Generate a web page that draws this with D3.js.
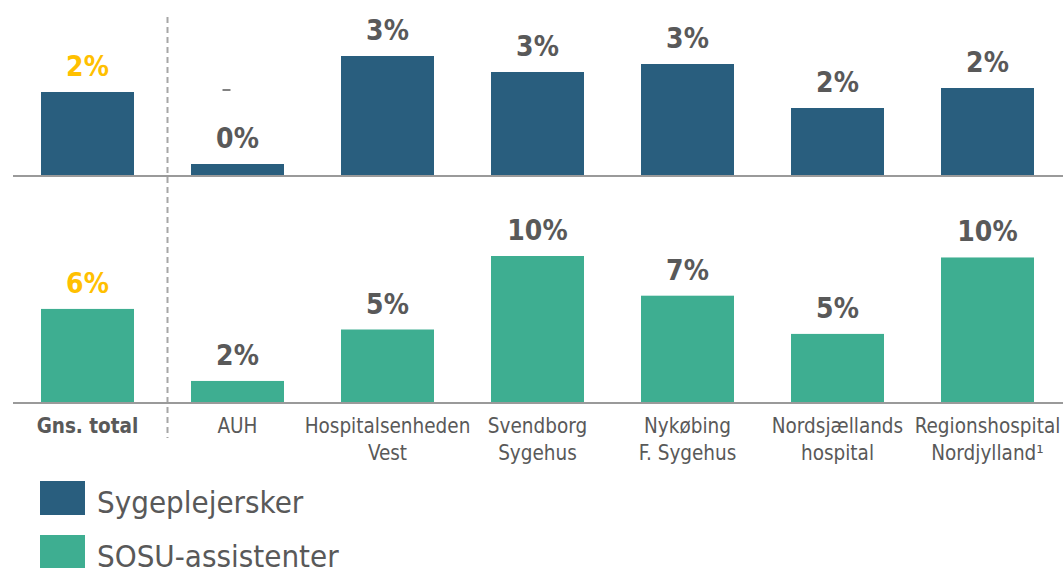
<!DOCTYPE html>
<html>
<head>
<meta charset="utf-8">
<script src="https://cdn.jsdelivr.net/npm/d3@7"></script>
<style>
  body { margin: 0; background: #fff; }
  svg { display: block; font-family: "DejaVu Sans Condensed", "DejaVu Sans", sans-serif; }
</style>
</head>
<body>
<svg id="svg" width="1063" height="568"></svg>
<script>
const categories = ['Gns. total', 'AUH', 'Hospitalsenheden Vest', 'Svendborg Sygehus',
    'Nykøbing F. Sygehus', 'Nordsjællands hospital', 'Regionshospital Nordjylland¹'];
// two-line tick labels
const tickLabels = [
    ['Gns. total'], ['AUH'], ['Hospitalsenheden', 'Vest'], ['Svendborg', 'Sygehus'],
    ['Nykøbing', 'F. Sygehus'], ['Nordsjællands', 'hospital'], ['Regionshospital', 'Nordjylland¹']
];
const sygeplejersker = [2.1, 0.3, 3.0, 2.6, 2.8, 1.7, 2.2];
const sosu = [6.4, 1.5, 5.0, 10.0, 7.3, 4.7, 9.9];
const seriesNames = ['Sygeplejersker', 'SOSU-assistenter'];

const colors = ['#295e7e', '#3eae91'];
const textGrey = '#595959';
const avgColor = '#ffc000';

const svg = d3.select('#svg');

const xScale = d3.scaleBand()
    .domain(categories)
    .range([12.5, 1062.5])
    .paddingInner(0.38)
    .paddingOuter(0.19);

// one scale per panel
const yTop = d3.scaleLinear().domain([0, 4]).range([176, 16]);
const yBottom = d3.scaleLinear().domain([0, 10]).range([403, 256]);

const panels = [
    {values: sygeplejersker, y: yTop, color: colors[0]},
    {values: sosu, y: yBottom, color: colors[1]}
];

// dashed divider between average and hospitals
const divX = (xScale(categories[0]) + xScale.bandwidth() + xScale(categories[1])) / 2 + 5;
svg.append('line')
    .attr('x1', divX).attr('x2', divX)
    .attr('y1', 17).attr('y2', 438)
    .attr('stroke', '#a6a6a6')
    .attr('stroke-width', 2)
    .attr('stroke-dasharray', '6,4');

panels.forEach(p => {
    const data = categories.map((c, i) => ({cat: c, v: p.values[i], i: i}));
    const g = svg.append('g');

    g.selectAll('rect').data(data)
        .enter()
        .append('rect')
        .attr('x', d => xScale(d.cat))
        .attr('y', d => p.y(d.v))
        .attr('width', xScale.bandwidth())
        .attr('height', d => p.y(0) - p.y(d.v))
        .attr('fill', p.color);

    g.selectAll('.val').data(data)
        .enter()
        .append('text')
        .attr('class', 'val')
        .attr('x', d => xScale(d.cat) + xScale.bandwidth() / 2)
        .attr('y', d => p.y(d.v) - 16)
        .attr('text-anchor', 'middle')
        .attr('font-size', 28)
        .attr('font-weight', 'bold')
        .attr('fill', d => d.i === 0 ? avgColor : textGrey)
        .text(d => Math.round(d.v) + '%');

    // baseline
    g.append('line')
        .attr('x1', 13).attr('x2', 1063)
        .attr('y1', p.y(0)).attr('y2', p.y(0))
        .attr('stroke', '#9a9a9a')
        .attr('stroke-width', 2);
});

// small dash above the AUH label
const auhX = xScale(categories[1]) + xScale.bandwidth() / 2 - 11;
svg.append('line')
    .attr('x1', auhX - 4).attr('x2', auhX + 4)
    .attr('y1', 90).attr('y2', 90)
    .attr('stroke', textGrey)
    .attr('stroke-width', 1.5);

// category labels
const xAxis = svg.append('g').attr('class', 'xAxis');
xAxis.selectAll('text').data(categories)
    .enter()
    .append('text')
    .attr('x', d => xScale(d) + xScale.bandwidth() / 2)
    .attr('y', 433)
    .attr('text-anchor', 'middle')
    .attr('font-size', 20.5)
    .attr('font-weight', (d, i) => i === 0 ? 'bold' : 'normal')
    .attr('fill', textGrey)
    .each(function(d, i) {
        const t = d3.select(this);
        tickLabels[i].forEach((line, k) => {
            t.append('tspan')
                .attr('x', xScale(d) + xScale.bandwidth() / 2)
                .attr('dy', k === 0 ? 0 : 27)
                .text(line);
        });
    });

// legend
const legend = svg.append('g').selectAll('g').data(seriesNames)
    .enter()
    .append('g')
    .attr('transform', (d, i) => 'translate(40,' + (481 + i * 54) + ')');
legend.append('rect')
    .attr('width', 45).attr('height', 34)
    .attr('fill', (d, i) => colors[i]);
legend.append('text')
    .attr('x', 57).attr('y', 32)
    .attr('font-size', 31)
    .attr('fill', textGrey)
    .text(d => d);
</script>
</body>
</html>
